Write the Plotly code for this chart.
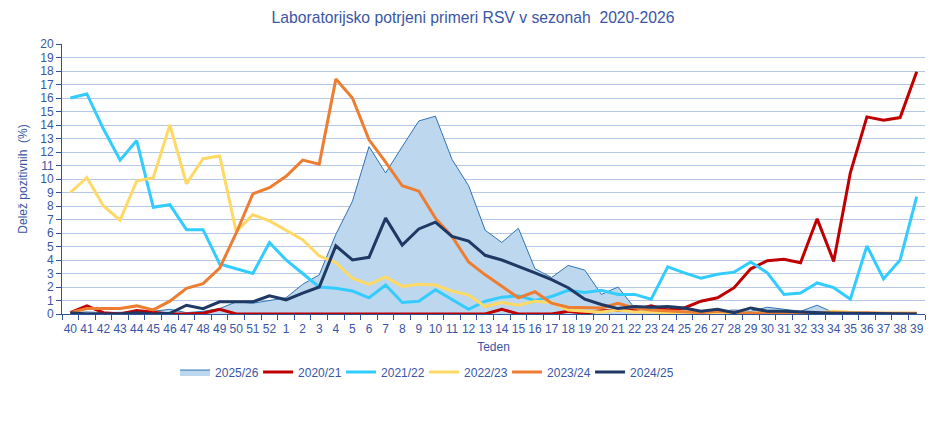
import plotly.graph_objects as go

weeks = [str(w) for w in list(range(40, 53)) + list(range(1, 40))]

s2025_26 = [0.1, 0.15, 0.1, 0.1, 0.15, 0.2, 0.35, 0.1, 0.2, 0.4, 0.9, 0.8, 1.0,
            1.2, 2.2, 2.9, 5.9, 8.35, 12.4, 10.45, 12.4, 14.3, 14.65, 11.45, 9.5, 6.2,
            5.3, 6.35, 3.35, 2.7, 3.6, 3.25, 1.45, 2.0, 0.45, 0.45, 0.45, 0.35, 0.2,
            0.2, 0.3, 0.2, 0.5, 0.35, 0.2, 0.65, 0.1, 0.05, 0.05, 0.05, 0.05, 0.0]
s2020_21 = [0.1, 0.6, 0.1, 0.0, 0.25, 0.1, 0.0, 0.0, 0.05, 0.35, 0.0, 0.0, 0.0,
            0.0, 0.0, 0.0, 0.0, 0.0, 0.0, 0.0, 0.0, 0.0, 0.0, 0.0, 0.0, 0.0,
            0.35, 0.0, 0.0, 0.0, 0.2, 0.05, 0.25, 0.3, 0.3, 0.6, 0.3, 0.45, 0.95,
            1.2, 1.95, 3.35, 3.95, 4.05, 3.8, 7.05, 3.9, 10.45, 14.6, 14.35, 14.55, 17.95]
s2021_22 = [16.0, 16.3, 13.7, 11.4, 12.85, 7.9, 8.1, 6.25, 6.25, 3.7, 3.35, 3.0, 5.3,
            4.0, 3.0, 2.0, 1.9, 1.7, 1.2, 2.15, 0.85, 0.95, 1.8, 1.1, 0.35, 0.95,
            1.25, 1.35, 1.0, 1.3, 1.75, 1.6, 1.75, 1.45, 1.45, 1.1, 3.5, 3.05, 2.65,
            2.95, 3.1, 3.85, 3.05, 1.45, 1.55, 2.3, 1.95, 1.1, 5.05, 2.6, 4.0, 8.7]
s2022_23 = [9.0, 10.1, 8.0, 6.95, 9.85, 10.1, 14.0, 9.65, 11.5, 11.7, 6.1, 7.35, 6.9,
            6.2, 5.5, 4.3, 3.8, 2.65, 2.2, 2.75, 2.05, 2.2, 2.15, 1.7, 1.4, 0.55,
            0.85, 0.65, 0.95, 0.85, 0.3, 0.2, 0.15, 0.3, 0.15, 0.15, 0.1, 0.15, 0.05,
            0.1, 0.05, 0.05, 0.05, 0.05, 0.05, 0.05, 0.2, 0.1, 0.05, 0.05, 0.05, 0.05]
s2023_24 = [0.1, 0.4, 0.4, 0.4, 0.6, 0.3, 0.95, 1.9, 2.25, 3.4, 6.0, 8.9, 9.35,
            10.2, 11.4, 11.1, 17.4, 16.0, 12.9, 11.25, 9.5, 9.1, 7.1, 5.75, 3.85, 2.9,
            2.05, 1.2, 1.65, 0.8, 0.5, 0.5, 0.45, 0.8, 0.45, 0.3, 0.25, 0.2, 0.1,
            0.2, 0.1, 0.05, 0.1, 0.05, 0.05, 0.05, 0.1, 0.05, 0.1, 0.05, 0.05, 0.05]
s2024_25 = [0.1, 0.0, 0.0, 0.0, 0.1, 0.0, 0.05, 0.65, 0.4, 0.9, 0.9, 0.9, 1.35,
            1.05, 1.55, 2.0, 5.05, 4.0, 4.2, 7.1, 5.1, 6.3, 6.8, 5.75, 5.4, 4.35,
            4.0, 3.55, 3.05, 2.55, 1.95, 1.1, 0.7, 0.4, 0.55, 0.5, 0.55, 0.45, 0.2,
            0.35, 0.1, 0.45, 0.2, 0.2, 0.15, 0.05, 0.05, 0.05, 0.05, 0.05, 0.05, 0.0]

txt = "#3A56A5"
axis_col = "#2F5597"

fig = go.Figure()
fig.add_trace(go.Scatter(x=weeks, y=s2025_26, name="2025/26", mode="lines",
                         fill="tozeroy", fillcolor="#BDD7EE",
                         line=dict(color="#2E75B6", width=1)))
lines = [("2020/21", s2020_21, "#C00000"),
         ("2021/22", s2021_22, "#33CCFF"),
         ("2022/23", s2022_23, "#FFD966"),
         ("2023/24", s2023_24, "#ED7D31"),
         ("2024/25", s2024_25, "#1F3864")]
for name, vals, col in lines:
    fig.add_trace(go.Scatter(x=weeks, y=vals, name=name, mode="lines",
                             line=dict(color=col, width=3)))

# page body has an 8px default margin, so the figure is a bit smaller
fig.update_layout(
    width=940, height=426,
    margin=dict(l=54, r=23, t=36, b=120, autoexpand=False),
    paper_bgcolor="white", plot_bgcolor="white",
    font=dict(family="Liberation Sans, Arial", size=12, color=txt),
    title=dict(text="Laboratorijsko potrjeni primeri RSV v sezonah  2020-2026",
               x=465 / 940, xanchor="center", y=1 - 10 / 426, yref="container",
               yanchor="middle", font=dict(size=15.7, color=txt)),
    legend=dict(orientation="h", x=0.131, xanchor="left", y=-0.215, yanchor="middle",
                font=dict(size=12, color=txt), entrywidth=38, traceorder="normal"),
)
fig.update_xaxes(type="category", range=[-0.5, 51.5], showgrid=False, showline=True,
                 linecolor=axis_col, linewidth=1, ticks="outside", tickson="boundaries",
                 ticklen=5, tickcolor=axis_col, tickangle=0, ticklabelstandoff=4,
                 tickfont=dict(size=12, color=txt),
                 title=dict(text="Teden", standoff=7, font=dict(size=12, color=txt)))
fig.update_yaxes(range=[0, 20], dtick=1, showgrid=True, gridcolor="#B4C7E7",
                 gridwidth=1, showline=True, linecolor=axis_col, linewidth=1,
                 ticks="outside", ticklen=5, tickcolor=axis_col, zeroline=False,
                 tickfont=dict(size=12, color=txt),
                 title=dict(text="Delež pozitivnih  (%)", standoff=10,
                            font=dict(size=12, color=txt)))

fig.write_html("out.html")
